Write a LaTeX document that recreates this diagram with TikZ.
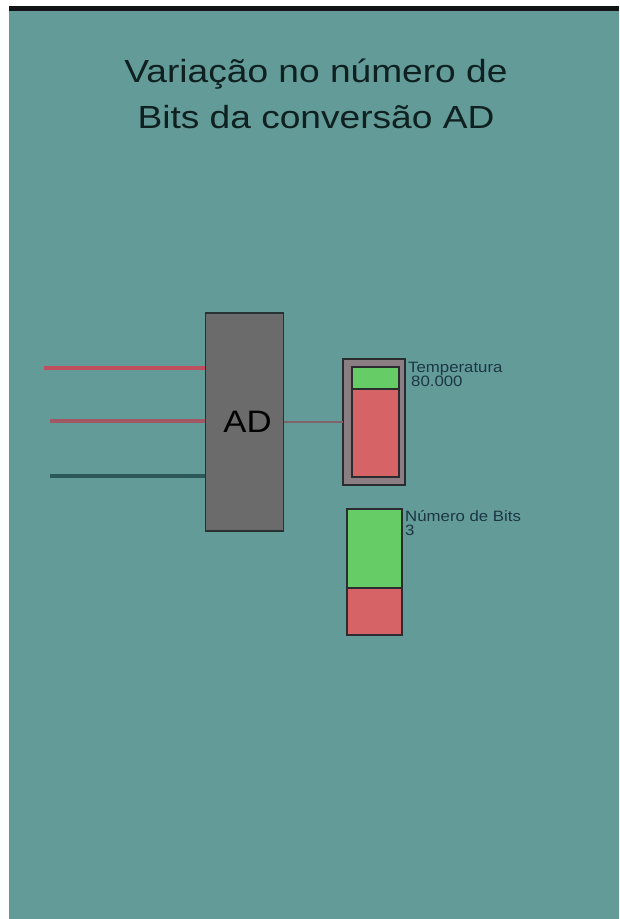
\documentclass[tikz,border=0pt]{standalone}
\usepackage{fontspec}
\setmainfont{Liberation Sans}
\newfontfamily\titlesans[FakeStretch=1.16]{Liberation Sans}
\newfontfamily\labelsans[FakeStretch=1.12]{Liberation Sans}
\usetikzlibrary{positioning,calc}
\definecolor{screen}{HTML}{639B98}
\definecolor{topbar}{HTML}{101414}
\definecolor{titleink}{HTML}{0F2020}
\definecolor{labelink}{HTML}{1C3644}
\definecolor{boxgray}{HTML}{6B6B6B}
\definecolor{boxline}{HTML}{283232}
\definecolor{framegray}{HTML}{8A7E82}
\definecolor{barline}{HTML}{2A2C30}
\definecolor{bargreen}{HTML}{66CC66}
\definecolor{barred}{HTML}{D66466}
\definecolor{wirered}{HTML}{C04E5C}
\definecolor{wiremauve}{HTML}{A05862}
\definecolor{wireteal}{HTML}{2C5858}
\definecolor{wireout}{HTML}{7E6468}
\tikzset{
  titletext/.style={anchor=base,inner sep=0pt,text=titleink,
                    font=\titlesans\fontsize{32}{46}\selectfont},
  adbox/.style={draw=boxline,fill=boxgray,line width=1.2pt,
                minimum width=78pt,minimum height=218pt,inner sep=0pt,
                text=black,font=\labelsans\fontsize{31}{36}\selectfont},
  meterframe/.style={draw=barline,fill=framegray,line width=1.6pt,
                     inner sep=0pt,outer sep=0pt},
  greenbar/.style={draw=barline,fill=bargreen,line width=1.2pt,
                   inner sep=0pt,outer sep=0pt},
  redbar/.style={draw=barline,fill=barred,line width=1.2pt,
                 inner sep=0pt,outer sep=0pt},
  caption/.style={anchor=north west,inner sep=0pt,align=left,text=labelink,
                  font=\labelsans\fontsize{15}{14}\selectfont},
  wire/.style={line width=3.2pt}
}

\begin{document}
\begin{tikzpicture}[x=1pt,y=-1pt]
    \path[use as bounding box] (0,0) rectangle (619,919);
    \fill[white] (0,0) rectangle (619,919);
    \fill[screen] (9,6) rectangle (619,919);
    \fill[topbar] (9,6) rectangle (619,11);

    \node[titletext] (title1) at (316,82) {Variação no número de};
    \node[titletext] (title2) at (316,128) {Bits da conversão AD};

    \coordinate (in1) at (44,368);
    \coordinate (in2) at (50,421);
    \coordinate (in3) at (50,476);
    \node[adbox] (ad) at (244.5,422) {\hspace{6pt}AD};
    \draw[wire,wirered] (in1) -- (in1 -| ad.west);
    \draw[wire,wiremauve] (in2) -- (in2 -| ad.west);
    \draw[wire,wireteal] (in3) -- (in3 -| ad.west);

    \node[meterframe,minimum width=62pt,minimum height=126pt] (tempframe) at (374,422) {};
    \node[redbar,minimum width=47pt,minimum height=88pt] (tempred) at (375.5,433) {};
    \node[greenbar,minimum width=47pt,minimum height=22pt,above=0pt of tempred] (tempgreen) {};
    \draw[line width=2pt,wireout] (ad.east |- tempframe.west) -- (tempframe.west);
    \node[caption] (tempcap) at (408,362) {Temperatura\\\hspace{3pt}80.000};

    \node[greenbar,minimum width=55pt,minimum height=79pt] (bitsgreen) at (374.5,548.5) {};
    \node[redbar,minimum width=55pt,minimum height=47pt,below=0pt of bitsgreen] (bitsred) {};
    \node[caption] (bitscap) at (405,510) {Número de Bits\\3};
  \end{tikzpicture}
\end{document}
